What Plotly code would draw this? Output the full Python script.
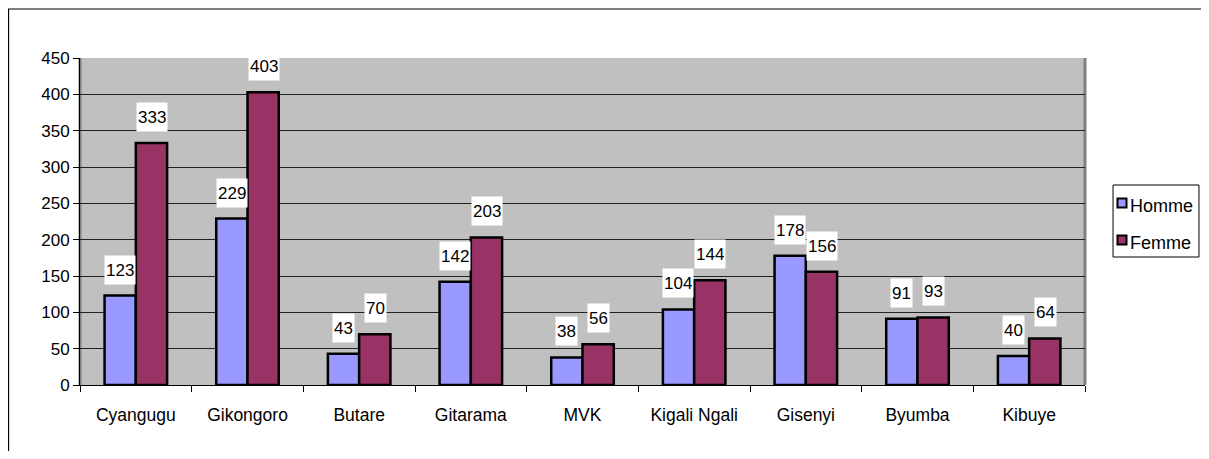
"""Hommes / Femmes par préfecture - grouped bar chart in the old Excel style."""
import plotly.graph_objects as go

PREFECTURES = ["Cyangugu", "Gikongoro", "Butare", "Gitarama", "MVK",
               "Kigali Ngali", "Gisenyi", "Byumba", "Kibuye"]
HOMME = [123, 229, 43, 142, 38, 104, 178, 91, 40]
FEMME = [333, 403, 70, 203, 56, 144, 156, 93, 64]
Y_TICKS = [0, 50, 100, 150, 200, 250, 300, 350, 400, 450]

FONT = "Liberation Sans, Arial, sans-serif"
HOMME_COLOR = "#9999FF"
FEMME_COLOR = "#993366"

fig = go.Figure()
fig.add_trace(go.Bar(
    x=PREFECTURES, y=HOMME, name="Homme",
    marker=dict(color=HOMME_COLOR, line=dict(color="black", width=2.5)),
))
fig.add_trace(go.Bar(
    x=PREFECTURES, y=FEMME, name="Femme",
    marker=dict(color=FEMME_COLOR, line=dict(color="black", width=2.5)),
))

# value labels on white boxes above each bar
for series, shift in ((HOMME, -16), (FEMME, 16)):
    for cat, val in zip(PREFECTURES, series):
        fig.add_annotation(
            x=cat, y=val, xref="x", yref="y", text=str(val),
            showarrow=False, xshift=shift, yshift=11, yanchor="bottom",
            bgcolor="white", borderpad=1, height=26,
            font=dict(family=FONT, size=17, color="black"),
        )

# darker edges of the plot area
for xp in (0, 1):
    fig.add_shape(type="line", xref="paper", yref="paper",
                  x0=xp, x1=xp, y0=0, y1=1,
                  line=dict(color="#808080", width=3), layer="below")

# outer chart frame (runs off the right and bottom of the picture)
fig.add_shape(type="rect", xref="paper", yref="paper",
              x0=-0.0711, x1=1.3, y0=-0.4, y1=1.1498,
              line=dict(color="black", width=1.2))

# Excel-like legend box (plotly's own legend is too wide for the space left)
fig.add_shape(type="rect", xref="paper", yref="paper",
              x0=1.0279, x1=1.1134, y0=0.3914, y1=0.6116,
              line=dict(color="black", width=1), fillcolor="white")
legend_items = [("Homme", HOMME_COLOR, 0.5566), ("Femme", FEMME_COLOR, 0.4434)]
for name, color, yc in legend_items:
    fig.add_shape(type="rect", xref="paper", yref="paper",
                  x0=1.0323, x1=1.0413, y0=yc - 0.0138, y1=yc + 0.0138,
                  line=dict(color="black", width=2), fillcolor=color)
    fig.add_annotation(
        x=1.0428, y=yc - 0.009, xref="paper", yref="paper", text=name,
        showarrow=False, xanchor="left", yanchor="middle",
        font=dict(family=FONT, size=18, color="black"),
    )

fig.update_layout(
    width=1193, height=443,
    margin=dict(l=72, r=116, t=50, b=66, autoexpand=False),
    paper_bgcolor="white", plot_bgcolor="#C0C0C0",
    barmode="group", bargap=0.44, bargroupgap=0,
    font=dict(family=FONT, size=17, color="black"),
    showlegend=False,
    xaxis=dict(
        showline=True, linecolor="black", linewidth=1,
        ticks="outside", ticklen=6, tickcolor="black",
        tickson="boundaries", ticklabelstandoff=14,
        tickfont=dict(size=17.5), showgrid=False,
    ),
    yaxis=dict(
        range=[0, 450], tickvals=Y_TICKS,
        showline=True, linecolor="black", linewidth=1,
        ticks="outside", ticklen=6, tickcolor="black",
        showgrid=True, gridcolor="#222222", gridwidth=1,
        zeroline=False,
    ),
)

fig.write_html("out.html")
